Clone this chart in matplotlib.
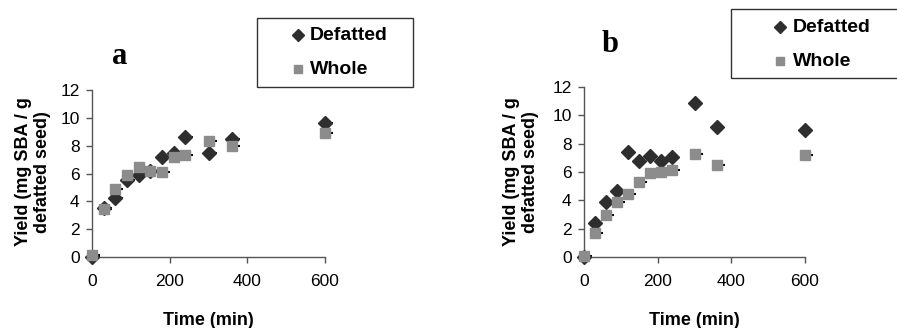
import matplotlib
matplotlib.use("Agg")
import matplotlib.pyplot as plt
from matplotlib.patches import Rectangle
from matplotlib.lines import Line2D
from matplotlib.transforms import offset_copy

plt.rcParams['font.family'] = ['Liberation Sans', 'DejaVu Sans']

time_min = [0, 30, 60, 90, 120, 150, 180, 210, 240, 300, 360, 600]

defatted_a = [0.0, 3.5, 4.25, 5.5, 5.9, 6.15, 7.15, 7.45, 8.6, 7.5, 8.5, 9.6]
whole_a = [0.17, 3.42, 4.9, 5.9, 6.5, 6.2, 6.12, 7.2, 7.35, 8.3, 7.95, 8.9]

defatted_b = [0.0, 2.4, 3.9, 4.65, 7.4, 6.8, 7.15, 6.8, 7.05, 10.85, 9.2, 8.95]
whole_b = [0.05, 1.7, 3.0, 3.85, 4.45, 5.3, 5.9, 6.0, 6.12, 7.3, 6.5, 7.22]

panel_labels = ['a', 'b']
series_labels = ['Defatted', 'Whole']
x_ticks = [0, 200, 400, 600]
y_ticks = [0, 2, 4, 6, 8, 10, 12]

W, H = 897, 328
fig = plt.figure(figsize=(W / 100, H / 100), dpi=100)

DARK = '#2e2e2e'
GRAY = '#8c8c8c'
SPINE = '#555555'


def px_axes(left, right, top, bottom):
    return fig.add_axes([left / W, 1 - bottom / H, (right - left) / W, (bottom - top) / H])


panels = [
    dict(rect=(92, 325, 90, 257), d=defatted_a, w=whole_a, dash_def=True,
         ylab=(33, 172), label_pos=(120, 57),
         leg=dict(box=(257, 413, 18, 87), mx=298, tx=310, y1=35, y2=69)),
    dict(rect=(584, 805, 87, 257), d=defatted_b, w=whole_b, dash_def=False,
         ylab=(521, 172), label_pos=(610, 45),
         leg=dict(box=(731, 905, 9, 78), mx=780, tx=793, y1=27, y2=61)),
]

for i, p in enumerate(panels):
    ax = px_axes(*p['rect'])
    ax.set_xlim(0, 600)
    ax.set_ylim(0, 12)
    ax.set_xticks(x_ticks)
    ax.set_yticks(y_ticks)
    for s in ['top', 'right']:
        ax.spines[s].set_visible(False)
    for s in ['left', 'bottom']:
        ax.spines[s].set_color(SPINE)
        ax.spines[s].set_linewidth(1.0)
    ax.tick_params(direction='out', length=4, width=1.0, color=SPINE,
                   labelsize=12.5, pad=5)
    ax.tick_params(axis='x', pad=8)

    ax.plot(time_min, p['d'], linestyle='none', marker='D', markersize=7,
            color=DARK, markeredgecolor=DARK, clip_on=False, zorder=3)
    ax.plot(time_min, p['w'], linestyle='none', marker='s', markersize=7.5,
            color=GRAY, markeredgecolor=GRAY, clip_on=False, zorder=4)

    tr = offset_copy(ax.transData, fig=fig, x=6, y=0, units='dots')
    ax.plot(time_min, p['w'], linestyle='none', marker='_', markersize=3,
            markeredgewidth=1.5, color='black', transform=tr, clip_on=False, zorder=2)
    if p['dash_def']:
        ax.plot(time_min, p['d'], linestyle='none', marker='_', markersize=3,
                markeredgewidth=1.5, color='black', transform=tr, clip_on=False, zorder=2)

    yx, yy = p['ylab']
    fig.text(yx / W, 1 - yy / H, 'Yield (mg SBA / g\ndefatted seed)', fontsize=13,
             fontweight='bold', rotation=90, ha='center', va='center',
             multialignment='center', linespacing=1.15)
    ax.set_xlabel('Time (min)', fontsize=13, fontweight='bold')
    ax.xaxis.set_label_coords(0.5, -55 / (p['rect'][3] - p['rect'][2]))

    lx, ly = p['label_pos']
    fig.text(lx / W, 1 - ly / H, panel_labels[i], fontsize=22, fontweight='bold',
             family=['Liberation Serif', 'DejaVu Serif'], ha='center', va='center')

    lg = p['leg']
    bl, br, bt, bb = lg['box']
    fig.add_artist(Rectangle((bl / W, 1 - bb / H), (br - bl) / W, (bb - bt) / H,
                             transform=fig.transFigure, fill=False,
                             edgecolor='#333333', linewidth=1.0))
    fig.add_artist(Line2D([lg['mx'] / W], [1 - lg['y1'] / H], marker='D', markersize=6,
                          color=DARK, linestyle='none', transform=fig.transFigure))
    fig.add_artist(Line2D([lg['mx'] / W], [1 - lg['y2'] / H], marker='s', markersize=6,
                          color=GRAY, linestyle='none', transform=fig.transFigure))
    fig.text(lg['tx'] / W, 1 - lg['y1'] / H, series_labels[0], fontsize=14,
             fontweight='bold', ha='left', va='center')
    fig.text(lg['tx'] / W, 1 - lg['y2'] / H, series_labels[1], fontsize=14,
             fontweight='bold', ha='left', va='center')

fig.savefig('out.png', dpi=100)
